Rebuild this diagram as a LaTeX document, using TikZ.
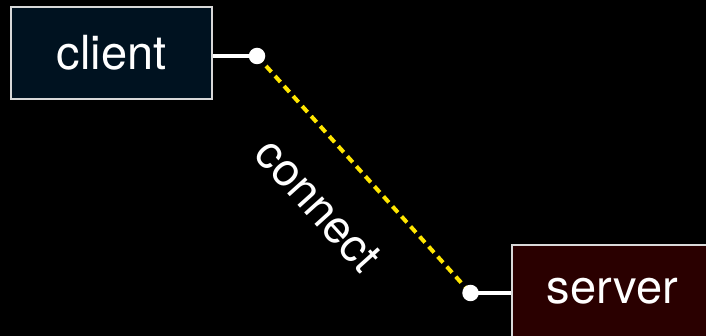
\documentclass[tikz,border=0pt]{standalone}
\usepackage{fontspec}
\setmainfont{TeX Gyre Heros}
\definecolor{clientfill}{HTML}{001220}
\definecolor{serverfill}{HTML}{2A0000}
\definecolor{boxline}{HTML}{D8D8D8}
\definecolor{dashyellow}{HTML}{FFE600}
\begin{document}
\begin{tikzpicture}[x=1pt,y=-1pt,
  box/.style={draw=boxline, line width=1.6pt, minimum width=201pt, minimum height=92pt,
    inner sep=0pt, text=white, font=\fontsize{47}{56}\selectfont},
  dot/.style={circle, fill=white, draw=none, minimum size=16.5pt, inner sep=0pt},
  wire/.style={draw=white, line width=3.8pt},
  link/.style={draw=dashyellow, line width=4pt, dash pattern=on 8pt off 5.5pt}]
\fill[black] (0,0) rectangle (706,336);
\useasboundingbox (0,0) rectangle (706,336);
\node[box, fill=clientfill] (client) at (111.5,53) {client};
\node[box, fill=serverfill] (server) at (612.5,291) {server};
\coordinate (cdot) at (257,56);
\coordinate (sdot) at (470.5,293);
\draw[wire] (client.east |- cdot) -- (cdot);
\draw[wire] (sdot) -- (server.west |- sdot);
\draw[link] (cdot) -- (sdot);
\node[dot] (cd) at (cdot) {};
\node[dot] (sd) at (sdot) {};
\node[text=white, font=\fontsize{46}{55}\selectfont, rotate=-48, inner sep=0pt] (lbl) at (318,205) {connect};
\end{tikzpicture}
\end{document}
